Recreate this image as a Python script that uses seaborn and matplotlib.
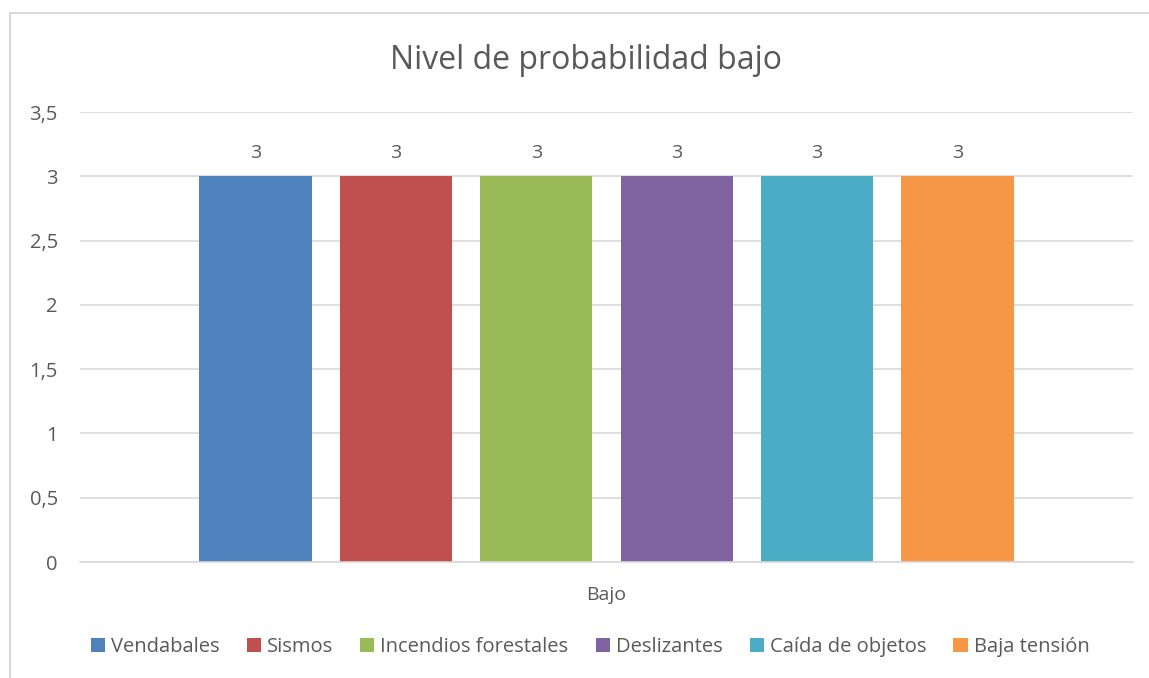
import matplotlib
matplotlib.use("Agg")
import matplotlib.pyplot as plt
import seaborn as sns
import pandas as pd
from matplotlib.patches import Rectangle
from matplotlib.ticker import FuncFormatter

categories = ["Bajo"]
series = ["Vendabales", "Sismos", "Incendios forestales", "Deslizantes",
          "Caída de objetos", "Baja tensión"]
values = [3, 3, 3, 3, 3, 3]
colors = ["#4F81BD", "#C0504D", "#9BBB59", "#8064A2", "#4BACC6", "#F79646"]

df = pd.DataFrame({"cat": categories * len(series), "serie": series, "valor": values})

sns.set_theme(style="white")
plt.rcParams["font.family"] = ["Open Sans", "DejaVu Sans"]
txt = "#595959"

fig = plt.figure(figsize=(11.49, 6.78), dpi=100)
ax = fig.add_axes([80/1149, 1-562/678, (1133-80)/1149, (562-112)/678])

sns.barplot(data=df, x="cat", y="valor", hue="serie", palette=colors,
            hue_order=series, width=0.8, gap=0.2, ax=ax, legend=True,
            saturation=1, edgecolor="none")

ax.set_xlim(-0.5, 0.5)
ax.set_ylim(0, 3.5)
ax.set_yticks([0, 0.5, 1, 1.5, 2, 2.5, 3, 3.5])
ax.yaxis.set_major_formatter(FuncFormatter(lambda v, p: f"{v:g}".replace(".", ",")))
ax.grid(axis="y", color="#d9d9d9", lw=1.2)
ax.set_axisbelow(True)
for s in ["left", "right", "top"]:
    ax.spines[s].set_visible(False)
ax.spines["bottom"].set_color("#d9d9d9")
ax.spines["bottom"].set_linewidth(1.2)
ax.tick_params(axis="y", length=0, labelsize=14.5, labelcolor=txt, pad=16)
ax.tick_params(axis="x", length=0, labelsize=14, labelcolor=txt, pad=17)
ax.set_xlabel("")
ax.set_ylabel("")

for cont in ax.containers:
    ax.bar_label(cont, fmt="%g", padding=10, fontsize=14, color=txt)

fig.text(586/1149, 1-69/678, "Nivel de probabilidad bajo", fontsize=23,
         color=txt, ha="center", va="baseline")

ax.get_legend().remove()
handles, labels = ax.get_legend_handles_labels()
fig.legend(handles, labels, loc="center", bbox_to_anchor=(590/1149, 1-647/678),
           ncol=6, frameon=False, fontsize=14.5, labelcolor=txt,
           handlelength=0.7, handleheight=0.7, handletextpad=0.3,
           columnspacing=1.35)

fig.patches.append(Rectangle((10/1149, -0.05), 1.1, 1-13/678+0.05,
                             transform=fig.transFigure, fill=False,
                             edgecolor="#d9d9d9", lw=1.5))

fig.savefig("out.png", dpi=100)
